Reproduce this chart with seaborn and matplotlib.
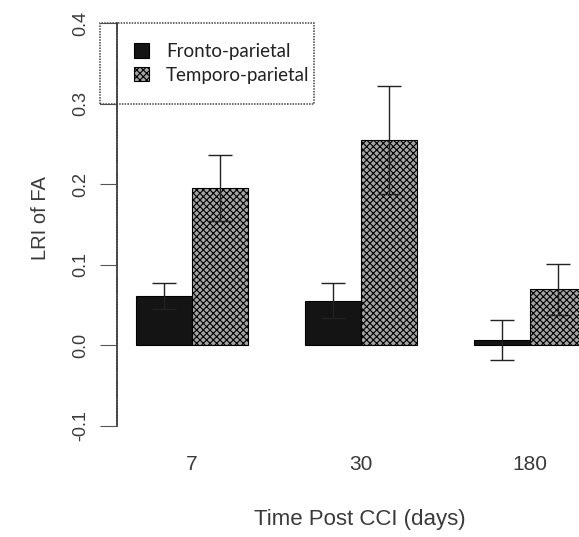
import matplotlib
matplotlib.use("Agg")
import matplotlib.pyplot as plt
import matplotlib.patches as mpatches
import seaborn as sns
import pandas as pd

# ---- data ----
times = ["7", "30", "180"]
regions = ["Fronto-parietal", "Temporo-parietal"]
fronto = [0.061, 0.055, 0.006]
fronto_err = [0.016, 0.022, 0.025]
temporo = [0.195, 0.255, 0.069]
temporo_err = [0.041, 0.067, 0.032]
yticks = [-0.1, 0.0, 0.1, 0.2, 0.3, 0.4]
ytick_labels = ["-0.1", "0.0", "0.1", "0.2", "0.3", "0.4"]

df = pd.DataFrame({
    "time": times * 2,
    "region": [regions[0]] * 3 + [regions[1]] * 3,
    "lri": fronto + temporo,
})

sns.set_theme(style="white")
plt.rcParams['font.family'] = ['Liberation Sans', 'DejaVu Sans']
plt.rcParams['hatch.linewidth'] = 0.8
txt = "#3a3a3a"

W, H = 579, 537
fig = plt.figure(figsize=(W / 100, H / 100), dpi=100)
ax = fig.add_axes([117 / W, 1 - 441.6 / H, (W - 117) / W, 434.6 / H])

sns.barplot(data=df, x="time", y="lri", hue="region", order=times,
            hue_order=regions, palette=["#141414", "#a4a4a4"],
            width=2/3, errorbar=None, edgecolor="black", linewidth=0.8,
            legend=False, ax=ax, saturation=1)

for p in ax.containers[1]:
    p.set_hatch("xxxxx")

errs = [fronto_err, temporo_err]
for cont, err in zip(ax.containers, errs):
    xs = [p.get_x() + p.get_width() / 2 for p in cont]
    ys = [p.get_height() for p in cont]
    ax.errorbar(xs, ys, yerr=err, fmt="none", ecolor="#222222",
                elinewidth=1.0, capsize=8.5, capthick=1.0)

ax.set_xlim(-0.444, 2.29)
ax.set_ylim(-0.12, 0.42)

for s in ["top", "right", "bottom"]:
    ax.spines[s].set_visible(False)
ax.spines["left"].set_bounds(-0.1, 0.4)
ax.spines["left"].set_linestyle((0, (1, 0.6)))
ax.spines["left"].set_color("#444444")
ax.spines["left"].set_linewidth(1.3)

ax.set_yticks(yticks)
ax.set_yticklabels(ytick_labels, rotation=90, va="center", fontsize=13, color=txt)
ax.tick_params(axis="y", left=True, length=12, width=0.8, color="#555555", pad=8)
ax.tick_params(axis="x", bottom=False, length=0, pad=10, labelsize=15, labelcolor=txt)

ax.set_xlabel("Time Post CCI (days)", fontsize=16, color=txt)
ax.xaxis.set_label_coords((360 - 117) / 462, (441.6 - 519) / 434.6)
ax.xaxis.label.set_va("center")
ax.set_ylabel("LRI of FA", fontsize=14.5, color=txt)
ax.yaxis.set_label_coords((40 - 117) / 462, (441.6 - 218) / 434.6)
ax.yaxis.label.set_va("center")

leg = ax.legend(ax.containers, regions, loc="upper left",
                bbox_to_anchor=(134 / W, 1 - 43 / H),
                bbox_transform=fig.transFigure, prop={"family": "Lato", "size": 13.5},
                frameon=False, handlelength=0.8, handleheight=0.8,
                borderpad=0, labelspacing=0.36, handletextpad=0.9,
                borderaxespad=0)
for t in leg.get_texts():
    t.set_color("#222222")

box = mpatches.Rectangle((100 / W, 1 - 104 / H), 214 / W, 81 / H,
                         transform=fig.transFigure, fill=False,
                         edgecolor="#444444", linewidth=1.1,
                         linestyle=(0, (1, 0.8)))
fig.add_artist(box)

fig.savefig("out.png", dpi=100, facecolor="white")
